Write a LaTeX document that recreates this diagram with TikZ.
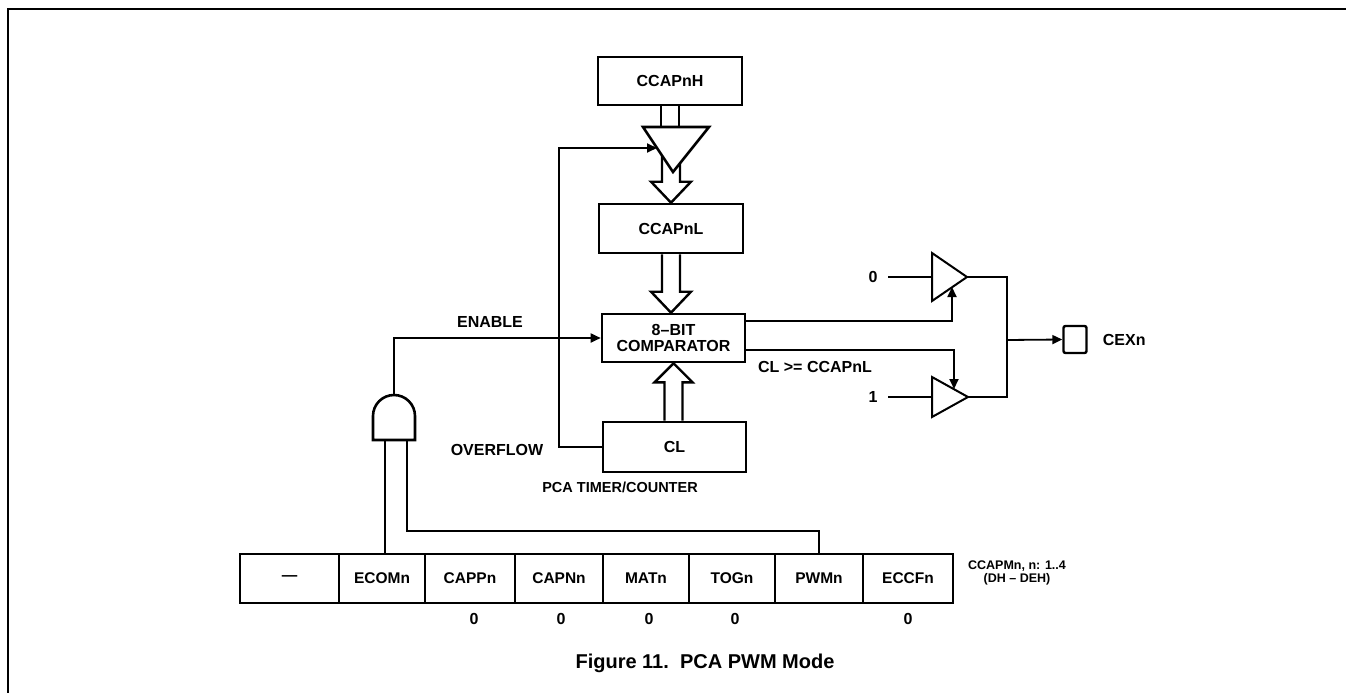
\documentclass[tikz,border=0pt]{standalone}
\usepackage{fontspec}
\setmainfont{Liberation Sans}
\usepackage{tikz}
\usetikzlibrary{arrows.meta,calc}

\begin{document}
\begin{tikzpicture}[x=1pt,y=-1pt,inner sep=0pt,line width=1.8pt,
    box/.style={draw,line width=2.6pt,minimum height=48pt,align=center,font=\bfseries\fontsize{16}{16}\selectfont},
    reg/.style={draw,line width=2.4pt,minimum height=49pt,font=\bfseries\fontsize{15.5}{16}\selectfont},
    txt/.style={align=center,font=\bfseries\fontsize{16}{16}\selectfont},
    fat/.style={draw,line width=2.4pt,fill=white},
    gate/.style={draw,line width=2.6pt,fill=white},
    arr/.style={-{Triangle[length=10pt,width=9pt]}}]
\useasboundingbox (0,0) rectangle (1346,693);
\draw[line width=2.6pt] (8,693) -- (8,9) -- (1346,9);

% registers and comparator
\draw (670, 81) node[box,minimum width=144pt] (ccapnh) {CCAPnH};
\draw (671, 228.5) node[box,minimum width=144pt,minimum height=49pt] (ccapnl) {CCAPnL};
\draw (673.5, 338) node[box,minimum width=143pt] (comp) {8--BIT\\COMPARATOR};
\draw (674.5, 447) node[box,minimum width=143pt,minimum height=50pt] (cl) {CL};
\draw (620, 487) node[txt,font=\bfseries\fontsize{14.5}{15}\selectfont] (pcalbl) {PCA TIMER/COUNTER};

% reload buffer
\coordinate (gateL) at (643,127);
\coordinate (gateR) at (709,127);
\coordinate (gateT) at (673,172);
\coordinate (gatein) at (657,148);
\draw[line width=2.4pt] ($(ccapnh.south)+(-9,0)$) -- ($(ccapnh.south)+(-9,22)$)
    ($(ccapnh.south)+(9,0)$) -- ($(ccapnh.south)+(9,22)$);
\draw[fat] ($(ccapnl.north)+(-9,-54)$) -- ($(ccapnl.north)+(-9,-21)$) -- ($(ccapnl.north)+(-20,-21)$) -- (ccapnl.north)
    -- ($(ccapnl.north)+(20,-21)$) -- ($(ccapnl.north)+(9,-21)$) -- ($(ccapnl.north)+(9,-54)$);
\draw[gate] (gateL) -- (gateR) -- (gateT) -- cycle;

\coordinate (tipB) at (ccapnl.south |- comp.north);
\draw[fat] ($(ccapnl.south)+(-9,0)$) -- ($(tipB)+(-9,-21)$) -- ($(tipB)+(-20,-21)$) -- (tipB)
    -- ($(tipB)+(20,-21)$) -- ($(tipB)+(9,-21)$) -- ($(ccapnl.south)+(9,0)$);
\draw[fat] ($(comp.south |- cl.north)+(-9,0)$) -- ($(comp.south)+(-9,19)$) -- ($(comp.south)+(-19,19)$) -- (comp.south)
    -- ($(comp.south)+(19,19)$) -- ($(comp.south)+(9,19)$) -- ($(comp.south |- cl.north)+(9,0)$);

% overflow feedback
\draw[arr] (cl.west) -- ++(-43,0) |- (gatein);
\draw (497, 450) node[txt] (oflbl) {OVERFLOW};

% enable gate
\coordinate (andout) at (394,395);
\coordinate (andin1) at (385,440);
\coordinate (andin2) at (407,440);
\draw[gate] (373,440) -- (373,416) arc (180:360:21) -- (415,440) -- cycle;
\draw[arr] (andout) |- (comp.west);
\draw (490, 322) node[txt] (enlbl) {ENABLE};

% mode register
\draw (289.5, 578.5) node[reg,minimum width=99pt] (rsv) {---};
\draw (382, 578.5) node[reg,minimum width=86pt] (ecom) {ECOMn};
\draw (470, 578.5) node[reg,minimum width=90pt] (capp) {CAPPn};
\draw (559, 578.5) node[reg,minimum width=88pt] (capn) {CAPNn};
\draw (646, 578.5) node[reg,minimum width=86pt] (mat) {MATn};
\draw (732, 578.5) node[reg,minimum width=86pt] (tog) {TOGn};
\draw (819, 578.5) node[reg,minimum width=88pt] (pwm) {PWMn};
\draw (908, 578.5) node[reg,minimum width=90pt] (eccf) {ECCFn};
\draw (1017, 573) node[txt,font=\bfseries\fontsize{12.5}{13}\selectfont] (reglbl) {CCAPMn, n: 1..4\\(DH -- DEH)};
\draw (474, 619) node[txt] (cappval) {0};
\draw (561, 619) node[txt] (capnval) {0};
\draw (649, 619) node[txt] (matval) {0};
\draw (735, 619) node[txt] (togval) {0};
\draw (908, 619) node[txt] (eccfval) {0};
\draw (andin1) -- (andin1 |- ecom.north);
\draw (andin2) -- ++(0,91) -| (pwm.north);

% output buffers
\coordinate (buf0in) at (932,277);
\coordinate (buf0out) at (967,277);
\coordinate (buf0ctl) at (952,287);
\coordinate (buf1in) at (932,397);
\coordinate (buf1out) at (968,397);
\coordinate (buf1ctl) at (954,389);
\draw[gate,line width=2pt] (932,253) -- (buf0out) -- (932,301) -- cycle;
\draw[gate,line width=2pt] (932,377) -- (buf1out) -- (932,417) -- cycle;
\draw (873, 277) node[txt] (zero) {0};
\draw (873, 397) node[txt] (one) {1};
\draw ($(zero.east)+(10,0)$) -- (buf0in);
\draw ($(one.east)+(10,0)$) -- (buf1in);
\draw[arr] ($(comp.east)+(0,-17)$) -| (buf0ctl);
\draw[arr] ($(comp.east)+(0,12)$) -| (buf1ctl);
\draw (815, 367) node[txt] (cmplbl) {CL >= CCAPnL};

\coordinate (merge) at (1007,340);
\draw (buf0out) -| (merge) |- (buf1out);
\draw (1075, 339.5) node[reg,minimum width=23pt,minimum height=27pt,rounded corners=2pt] (cex) {};
\draw[arr] (merge) -- (cex.west);
\draw (1102, 340) node[txt,anchor=west] (cexlbl) {CEXn};

\draw (705, 663) node[txt,font=\bfseries\fontsize{20}{22}\selectfont] (caption) {Figure 11.\ \ PCA PWM Mode};
\end{tikzpicture}
\end{document}
